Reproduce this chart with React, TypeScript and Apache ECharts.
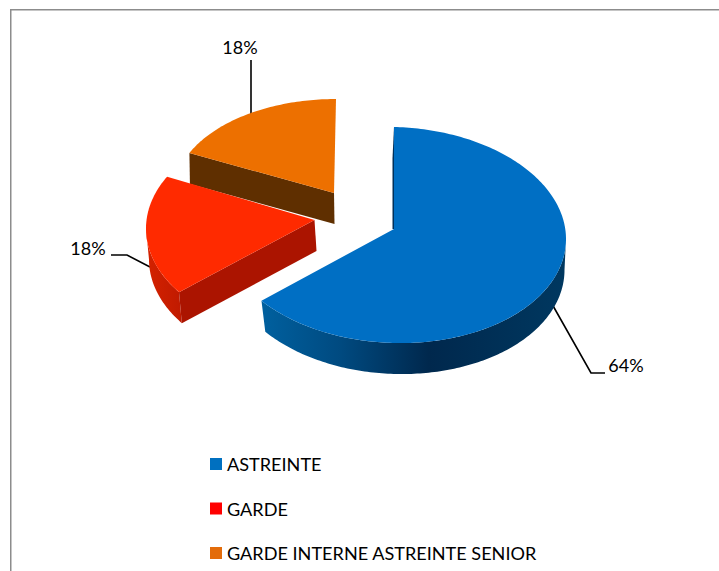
import React, { useEffect, useRef } from "react";
import * as echarts from "echarts";

const categories = ["ASTREINTE", "GARDE", "GARDE INTERNE ASTREINTE SENIOR"];
const shares = [64, 18, 18];
const legendColors = ["#0070c0", "#ff0000", "#e36c0a"];

// Layout of each exploded slice (perspective differs per slice)
const sliceLayout = [
  { cx: 394, cy: 235, rx: 172, ry: 108, tilt: 4, apex: [394, 229], shift: 0, depth: 31, dx: 1.5, bottomRx: 169,
    top: "#006fc4", radial: null,
    wall: [
      { offset: 0, color: "#00609f" },
      { offset: 0.26, color: "#004a80" },
      { offset: 0.55, color: "#00284d" },
      { offset: 1, color: "#003860" },
    ] },
  { cx: 318, cy: 228.5, rx: 172, ry: 108, tilt: 0, apex: [314.5, 220], shift: 3.5, depth: 31, dx: 2, bottomRx: 171,
    top: "#ff2a00", radial: "#ab1400",
    wall: [
      { offset: 0, color: "#d42200" },
      { offset: 1, color: "#c01a00" },
    ] },
  { cx: 336, cy: 193, rx: 162, ry: 94, tilt: 0, apex: [334, 193], shift: 0, depth: 31, dx: 0.5, bottomRx: 162,
    top: "#ed7000", radial: "#5f2f00", wall: [] },
];

const labelLayout = [
  { text: [626, 365], line: [[552, 304], [591, 373], [605, 373]] },
  { text: [88, 248], line: [[111, 255], [127, 255], [150, 267]] },
  { text: [240, 47], line: [[251, 60], [251, 114]] },
];

const font = "Lato, Carlito, Calibri, sans-serif";
const rad = (d: number) => (d * Math.PI) / 180;
const total = shares.reduce((a, b) => a + b, 0);

function renderSlice(index: number) {
  return (_params: any, api: any) => {
    const value = api.value(0);
    const before = shares.slice(0, index).reduce((a, b) => a + b, 0);
    const g = sliceLayout[index];
    const start = (before / total) * 360 + g.shift;
    const end = start + (value / total) * 360;
    const pt = (t: number, r = g.rx, off = 0, dx = 0) => [
      g.cx + dx + r * Math.sin(rad(t)),
      g.cy + off - g.ry * Math.cos(rad(t)) + g.tilt * Math.sin(rad(t)),
    ];
    const arc = (a: number, b: number, r = g.rx, off = 0, dx = 0) => {
      const pts: number[][] = [];
      const n = Math.max(2, Math.ceil(Math.abs(b - a)));
      for (let i = 0; i <= n; i++) pts.push(pt(a + ((b - a) * i) / n, r, off, dx));
      return pts;
    };
    const children: any[] = [];
    const lab = labelLayout[index];
    children.push({
      type: "polyline",
      shape: { points: lab.line },
      style: { stroke: "#000", lineWidth: 1.6, fill: null },
    });
    // outer wall: only the front half of the rim is visible
    const wFrom = Math.max(start, 90);
    const wTo = Math.min(end, 270);
    if (wTo > wFrom) {
      const pts = [...arc(wFrom, wTo), ...arc(wTo, wFrom, g.bottomRx, g.depth, g.dx)];
      children.push({
        type: "polygon",
        shape: { points: pts },
        style: { fill: new echarts.graphic.LinearGradient(0, 0, 1, 0, g.wall) },
      });
    }
    const a = g.apex;
    const s = pt(start);
    if (g.radial) {
      // side wall along the slice's start edge
      const sb = pt(start, g.bottomRx, g.depth, g.dx);
      children.push({
        type: "polygon",
        shape: { points: [s, a, [a[0] + g.dx, a[1] + g.depth], sb] },
        style: { fill: g.radial },
      });
    } else {
      // thin sliver of the side wall seen along the start edge
      children.push({
        type: "polygon",
        shape: { points: [s, a, [a[0] - 1.5, a[1]], [s[0] - 1.5, s[1] + g.depth]] },
        style: { fill: "#00305a" },
      });
    }
    children.push({
      type: "polygon",
      shape: { points: [a, ...arc(start, end)] },
      style: { fill: g.top },
    });
    children.push({
      type: "text",
      x: lab.text[0],
      y: lab.text[1],
      style: {
        text: `${value}%`,
        fontFamily: font,
        fontSize: 18,
        fill: "#000",
        align: "center",
        verticalAlign: "middle",
      },
    });
    return { type: "group", children };
  };
}

const seriesOrder = [2, 1, 0];

export default function App() {
  const ref = useRef<HTMLDivElement>(null);
  useEffect(() => {
    const chart = echarts.init(ref.current!, undefined, { renderer: "svg" });
    chart.setOption({
      animation: false,
      backgroundColor: "#ffffff",
      legend: {
        orient: "vertical",
        left: 205,
        top: 450,
        itemWidth: 12,
        itemHeight: 12,
        itemGap: 26.5,
        icon: "rect",
        data: categories,
        textStyle: { fontFamily: font, fontSize: 18.1, color: "#000" },
      },
      graphic: [
        { type: "line", shape: { x1: 10.75, y1: 9.75, x2: 10.75, y2: 571 }, style: { stroke: "#8c8c8c", lineWidth: 1.5 } },
        { type: "line", shape: { x1: 10, y1: 9.75, x2: 719, y2: 9.75 }, style: { stroke: "#8c8c8c", lineWidth: 1.5 } },
      ],
      series: seriesOrder.map((i) => ({
        type: "custom",
        name: categories[i],
        coordinateSystem: "none",
        itemStyle: { color: legendColors[i] },
        data: [[shares[i]]],
        renderItem: renderSlice(i),
        z: 2,
      })),
    });
    return () => chart.dispose();
  }, []);
  return <div ref={ref} style={{ position: "absolute", left: 0, top: 0, width: 719, height: 571 }} />;
}
